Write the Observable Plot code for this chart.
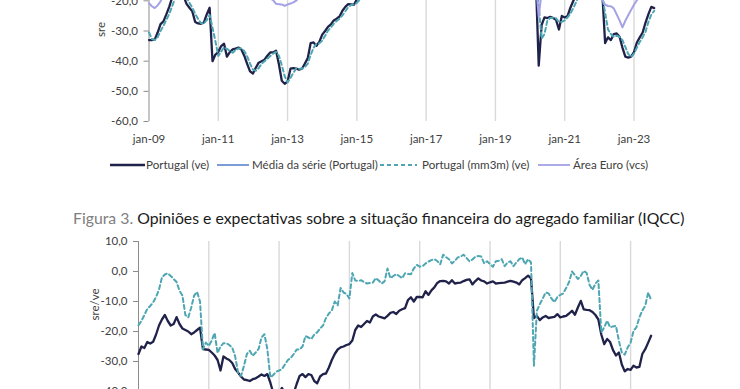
<!DOCTYPE html>
<html><head><meta charset="utf-8">
<script src="https://cdn.jsdelivr.net/npm/d3@7"></script>
<script src="https://cdn.jsdelivr.net/npm/@observablehq/plot@0.6"></script>
<style>
html,body{margin:0;padding:0;background:#fff;overflow:hidden;width:740px;height:389px;font-family:Lato,"Open Sans",sans-serif;}
#top{position:absolute;left:0;top:-70px;}
#bottom{position:absolute;left:0;top:235px;}
#legend{position:absolute;left:0;top:158px;width:740px;height:14px;font-size:11.6px;line-height:14px;color:#404040;white-space:nowrap;}
#legend .ln{position:absolute;top:4px;}
#legend .tx{position:absolute;top:0;}
#title{position:absolute;left:73px;top:209px;font-size:15.8px;line-height:18px;color:#1a1a1a;white-space:nowrap;}
#title .fig{color:#808080;}
</style></head>
<body>
<div id="top"></div>
<div id="legend"></div>
<div id="title"><span class="fig">Figura 3.</span> Opiniões e expectativas sobre a situação financeira do agregado familiar (IQCC)</div>
<div id="bottom"></div>
<script>
// ---- categories (monthly, jan-09 .. ago-23) ----
const xTickMonths = [0, 24, 48, 72, 96, 120, 144, 168];
const xTickLabels = ["jan-09", "jan-11", "jan-13", "jan-15", "jan-17", "jan-19", "jan-21", "jan-23"];
const yTicksTop = [-60, -50, -40, -30, -20];
const yTicksBottom = [-40, -30, -20, -10, 0, 10];

// ---- Figura 2 (top, cropped): series ----
const ptTop = [
 -33,-33,-32.8,-30.5,-27.7,-26.8,-24.5,-22,-19,-17,-16,-17.5,
 -18.5,-21,-22.3,-23.5,-27,-27.5,-27.6,-27.2,-24.5,-22.3,-40,-37.8,
 -37,-35,-34.2,-38.5,-37,-36.1,-35.8,-35.5,-36.1,-38.2,-40.9,-43.4,
 -44.1,-42.2,-40.5,-40,-39.5,-38.2,-37.1,-37.1,-36.5,-41,-46.5,-47.5,
 -46.8,-42.5,-42.3,-42.5,-42.8,-42.5,-40.8,-39,-34,-33.8,-34.9,-33.6,
 -31.2,-30,-28.6,-27.8,-26.5,-25.9,-25.2,-23.3,-22,-21.1,-21.2,-21.3,
 -19.5,-18,-17,-17.5,-16,-16.5,-17,-18,-16,-15,-15.5,-14,
 -14,-15,-16,-15,-14,-13,-13,-12,-12,-11,-10,-9,
 -9,-8,-8,-7,-6,-5,-5,-4,-5,-5,-5,-4,
 -5,-4,-5,-6,-5,-6,-7,-7,-6,-8,-8,-9,
 -9,-8,-8,-8,-9,-9,-10,-9,-10,-10,-11,-10,
 -9,-10,-13,-41.5,-28,-25.5,-25.7,-25.3,-25.7,-26.3,-29.5,-25,
 -25.5,-25,-22.2,-20,-18,-17,-16,-14,-13,-12,-11,-13,
 -15,-17,-34,-32.1,-33,-31,-30.8,-31.9,-35.5,-38.5,-38.8,-38.5,
 -37,-33.8,-32.1,-30.5,-27.2,-24.4,-22,-22.4
];
const ptTopMM3 = [
 -30.5,-32.7,-33,-32,-30,-28.3,-26.3,-24.4,-21.8,-19.3,-17.3,-16.2,
 -17,-19,-20.6,-22.3,-24.3,-26,-27.4,-27.5,-26.4,-24.7,-28.9,-33.4,
 -38.3,-36.8,-35.4,-35.9,-36.6,-37.2,-36.3,-35.8,-35.8,-36.6,-38.4,-40.8,
 -42.8,-43.2,-42.3,-40.9,-40,-39.2,-38.3,-37.5,-36.9,-38.2,-41.3,-45,
 -47,-45.6,-43.9,-42.4,-42.5,-42.5,-42,-40.8,-37.9,-35.6,-34.2,-34.1,
 -33.2,-31.6,-29.9,-28.8,-27.6,-26.7,-25.9,-24.8,-23.5,-22.1,-21.4,-21.2,
 -20.7,-19.6,-18.2,-17.5,-16.8,-16.7,-16.8,-17,-17,-16.3,-15.5,-14.8,
 -14.5,-14.3,-15,-15.3,-15,-14,-13.3,-12.7,-12.3,-11.7,-11,-10,
 -9.3,-8.7,-8.3,-7.7,-7,-6,-5.3,-4.7,-4.7,-5,-5,-4.7,
 -4.7,-4.3,-4.7,-5,-5.3,-5.7,-6,-6.7,-6.7,-7,-7.3,-8.3,
 -8.7,-8.7,-8.3,-8,-8.3,-8.7,-9.3,-9.3,-9.7,-9.7,-10.3,-10.3,
 -10,-9.7,-10.7,-21.5,-32.5,-31,-26.5,-25.7,-25.6,-25.8,-27,-27,
 -26.5,-25.5,-24.2,-22.4,-20.3,-18.3,-17,-15.7,-14.3,-13,-12,-12.3,
 -13,-18.5,-24,-29.5,-31,-32,-31.6,-31.9,-33,-35.3,-37.6,-38.6,
 -37.5,-35.5,-33.6,-32.1,-30.2,-27,-24.6,-23.3
];
const euroTop = [
 -20.8,-21.8,-22.4,-21.5,-20.2,-18,-16,-14,-12,-11,-10,-9.5,
 -9,-8.5,-8,-8,-8.5,-9,-8.5,-8,-7.5,-7,-6.5,-6,
 -6,-5.5,-5.5,-6,-6.5,-7.5,-9.5,-12,-14,-15,-16,-17,
 -17.5,-17.5,-18,-18,-18.5,-19,-19.2,-19.8,-21,-21.1,-21.2,-21.7,
 -21.2,-20.9,-20.5,-19.9,-19,-18,-17,-16,-15,-14.5,-14,-13,
 -12,-11.5,-11,-10.5,-10,-10,-9.5,-9.5,-9,-9,-8.5,-8,
 -7.5,-7,-7,-7,-6.5,-6,-6,-6,-5.5,-5.5,-5.5,-5,
 -5,-5.5,-6,-6.5,-6.5,-6,-5.5,-5,-5,-5,-4.5,-4,
 -3.5,-3,-3,-2.5,-2,-2,-1.5,-1.5,-1,-1,-1,-0.5,
 -0.5,-0.5,-1,-1,-1,-1.5,-1.5,-2,-2,-2.5,-3,-3.5,
 -4,-4,-4,-4,-4,-4,-4.5,-4.5,-5,-5,-5,-5,
 -5,-5.5,-14,-25.3,-17,-15,-14,-13,-13.5,-12.5,-12,-11.5,
 -11,-10.5,-9.5,-8.5,-8,-7,-6,-5,-6,-7,-8.5,-9.5,
 -11,-19.5,-21.3,-21.7,-21.8,-22.5,-24.5,-26.5,-28.8,-26.6,-24.8,-23,
 -21.3,-19.8,-18,-17,-16,-15.5,-15,-14.5
];
const meanTop = -16;

// ---- Figura 3 (bottom, cropped): series ----
const ptBottom = [
 -27.5,-25,-25.5,-23.5,-24,-23.4,-21,-18,-16,-14.5,-16.5,-18,
 -17.5,-15.2,-17.5,-19,-19.5,-20,-20.9,-20.3,-19.5,-18.7,-25.9,-26,
 -26.1,-27,-28,-29.5,-33,-28.3,-29,-29.5,-30.5,-32.5,-33.7,-35,
 -36,-36.2,-36.5,-35.9,-35.6,-35,-34.3,-34.8,-34.2,-37,-40.5,-42,
 -40.5,-38.8,-41,-43,-42,-40.5,-37.5,-34.8,-34.2,-35.2,-34.2,-34.5,
 -36.5,-37.3,-35,-34.2,-34,-32,-29.5,-27.5,-26,-25.3,-25,-24.5,
 -24.2,-23,-19.5,-18,-18.5,-17.5,-16.5,-17,-15,-14.3,-15,-15.3,
 -15.6,-14.8,-13.8,-13.5,-14.2,-13.1,-12.6,-12.2,-9.5,-8.6,-10,-8.5,
 -8.5,-8.6,-6.6,-7.8,-6.3,-5.3,-3.8,-3.2,-3.1,-3.3,-4,-2.9,
 -4,-3.8,-3.7,-3.2,-2.8,-2.6,-4.3,-3.2,-2.3,-3,-3.3,-4,
 -3.6,-3.3,-4,-3.9,-3.8,-3.7,-3.4,-3.1,-3.4,-3.7,-4.3,-2.9,
 -2.2,-1.4,-2.3,-15.5,-14.8,-16.2,-15.3,-14.8,-15.5,-15.3,-15.1,-14.2,
 -15.3,-15,-14.8,-14,-13.1,-14.4,-12,-9.8,-12.6,-12.8,-12.9,-13.5,
 -14.5,-16,-21,-24.2,-22.5,-23.5,-26.2,-28,-27,-31,-33.3,-32.5,
 -32.8,-31.4,-32,-31.8,-27.5,-25.9,-23.7,-21.4
];
const ptBottomB = [
 -17.9,-16.5,-14.5,-12.5,-11.5,-10.3,-8.5,-6,-2,-1,-0.6,-1.5,
 -2.5,-3.5,-6.4,-8,-14.5,-15.3,-12,-8,-6.8,-10,-25.9,-23.7,
 -24.8,-23,-20.5,-27.2,-25,-23.9,-23.9,-24.5,-25.4,-28.3,-33.7,-34.8,
 -31.5,-27.5,-26.4,-28.1,-27,-25.8,-22,-20.9,-26,-35.3,-34.5,-33.4,
 -33,-32.5,-31,-29.5,-28.8,-27.5,-26,-26,-25,-21.5,-22,-22.5,
 -21,-20.3,-19,-18,-15.5,-14,-13,-10,-11.3,-5.5,-7,-7.5,
 -9,-0.5,-3,-3.2,-2.9,-3.5,-4,-3.8,-3.7,-2.2,-3,-4,
 -3.3,1,-2.2,-1.5,-0.9,-1.5,-2.2,-0.6,-0.8,-0.9,1,2.2,
 1.6,1.8,2.7,3.3,3.8,4.1,3.5,2.4,5.6,4.8,4.1,2.7,
 3.5,4.7,5,5.6,4.5,3.4,4,4.9,5.2,5,2.7,3.4,
 2.5,1.6,3.4,3.6,4.1,1.8,3,3.4,1.8,3,4.1,4.7,
 2.4,4.1,3,-31.4,-13.1,-10.9,-9,-7,-7.3,-9,-10.2,-8.5,
 -7.8,-7.3,-5.5,-3.5,0,-1.2,-2.5,-1.5,0.2,-0.5,-4.5,-6.1,
 -4,-3,-20.3,-18.6,-16.4,-18.6,-18.3,-18.1,-23.1,-27,-27.7,-25.3,
 -23.7,-19.8,-18.6,-15.3,-13,-11.4,-7,-9.5
];

// ---- legend (top chart) ----
const legendLabels = ["Portugal (ve)", "Média da série (Portugal)", "Portugal (mm3m) (ve)", "Área Euro (vcs)"];
const colors = {navy: "#20224a", mean: "#4472c4", teal: "#4fa6b3", euro: "#a4a1e6"};
const legendStyles = [
  {stroke: colors.navy, width: 2.4, dash: null, x: 110, len: 35, tx: 146},
  {stroke: colors.mean, width: 1.4, dash: null, x: 217, len: 32, tx: 252},
  {stroke: colors.teal, width: 1.8, dash: "4,3", x: 380, len: 37, tx: 422},
  {stroke: colors.euro, width: 1.8, dash: null, x: 538, len: 32, tx: 573}
];

const fmt = d => d.toFixed(1).replace(".", ",");
const xFmt = d => xTickLabels[xTickMonths.indexOf(d)];
const idx = (d, i) => i;
const val = d => d;

const axisColor = "#8c8c8c";
const gridColor = "#d9d9d9";
const textColor = "#404040";

const topChart = Plot.plot({
  width: 740, height: 221,
  marginLeft: 148.5, marginRight: 86.3, marginTop: 10, marginBottom: 30,
  style: {fontFamily: "Lato, sans-serif", fontSize: "11.5px", background: "transparent", overflow: "visible"},
  x: {domain: [0, 175]},
  y: {domain: [-60, 0]},
  marks: [
    Plot.ruleX(xTickMonths.slice(1), {stroke: gridColor, strokeWidth: 1.4}),
    Plot.ruleX([0], {stroke: axisColor, strokeWidth: 1}),
    Plot.axisY({ticks: yTicksTop, tickSize: 5, tickPadding: 6, tickFormat: fmt, label: null, stroke: axisColor, fill: textColor}),
    Plot.axisX({ticks: xTickMonths, tickSize: 0, tickPadding: 13.5, tickFormat: xFmt, label: null, fill: textColor}),
    Plot.text(["sre"], {frameAnchor: "left", dx: -48, dy: 6, rotate: -90, fill: textColor, fontSize: 11.5}),
    Plot.ruleY([meanTop], {stroke: colors.mean, strokeWidth: 1.4}),
    Plot.lineY(ptTop, {x: idx, y: val, stroke: colors.navy, strokeWidth: 2.3}),
    Plot.lineY(ptTopMM3, {x: idx, y: val, stroke: colors.teal, strokeWidth: 2, strokeDasharray: "4,3"}),
    Plot.lineY(euroTop, {x: idx, y: val, stroke: colors.euro, strokeWidth: 2})
  ]
});
document.getElementById("top").append(topChart);

const bottomChart = Plot.plot({
  width: 740, height: 216,
  marginLeft: 138, marginRight: 89.4, marginTop: 6, marginBottom: 30,
  style: {fontFamily: "Lato, sans-serif", fontSize: "11.5px", background: "transparent", overflow: "visible"},
  x: {domain: [0, 175], axis: null},
  y: {domain: [-50, 10]},
  marks: [
    Plot.ruleX(xTickMonths.slice(1), {stroke: gridColor, strokeWidth: 1.4}),
    Plot.ruleX([0], {stroke: axisColor, strokeWidth: 1}),
    Plot.axisY({ticks: yTicksBottom, tickSize: 5, tickPadding: 6, tickFormat: fmt, label: null, stroke: axisColor, fill: textColor}),
    Plot.text(["sre/ve"], {frameAnchor: "left", dx: -43, dy: -11, rotate: -90, fill: textColor, fontSize: 11.5}),
    Plot.lineY(ptBottom, {x: idx, y: val, stroke: colors.navy, strokeWidth: 2.3}),
    Plot.lineY(ptBottomB, {x: idx, y: val, stroke: colors.teal, strokeWidth: 2, strokeDasharray: "4,3"})
  ]
});
document.getElementById("bottom").append(bottomChart);

// legend
const legend = document.getElementById("legend");
legendLabels.forEach((lab, i) => {
  const s = legendStyles[i];
  const ln = document.createElement("span");
  ln.className = "ln";
  ln.style.left = s.x + "px";
  ln.innerHTML = `<svg width="${s.len}" height="6" style="display:block"><line x1="0" x2="${s.len}" y1="3" y2="3" stroke="${s.stroke}" stroke-width="${s.width}"${s.dash ? ` stroke-dasharray="${s.dash}"` : ""}/></svg>`;
  const tx = document.createElement("span");
  tx.className = "tx";
  tx.style.left = s.tx + "px";
  tx.textContent = lab;
  legend.append(ln, tx);
});
</script>
</body></html>
